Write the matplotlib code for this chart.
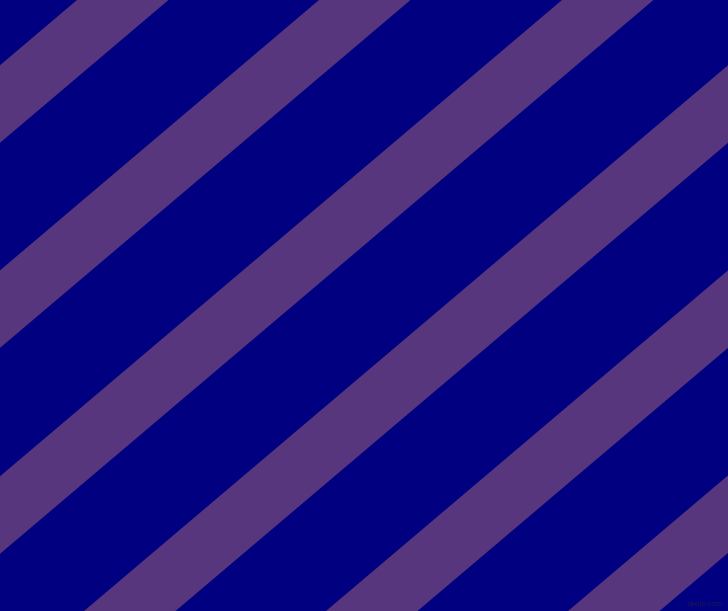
import matplotlib
matplotlib.use("Agg")
import matplotlib.pyplot as plt

# ── Pattern data (pixel units) ───────────────────────────────────────
W, H = 728, 611
background = "#000080"
stripe_color = "#57367d"
stripe_starts = [-650, -408, -165, 77, 319, 562, 805, 1047, 1289]  # x where a stripe's edge meets the top
stripe_width = 91.5        # horizontal width of each stripe
run_per_row = 1.18         # x shift per pixel down (about 40 degrees)

fig = plt.figure(figsize=(W / 100, H / 100), dpi=100)
ax = fig.add_axes([0, 0, 1, 1])
ax.set_xlim(0, W)
ax.set_ylim(H, 0)
ax.axis("off")
fig.patch.set_facecolor(background)
ax.set_facecolor(background)

for x0 in stripe_starts:
    x1 = x0 + stripe_width
    shift = H * run_per_row
    ax.fill([x0, x1, x1 - shift, x0 - shift], [0, 0, H, H],
            color=stripe_color, linewidth=0, antialiased=True)

ax.text(W - 5, H - 4, "pixlis.com", ha="right", va="bottom",
        fontsize=5, color="#1c1c4a", alpha=0.9)

fig.savefig("out.png", dpi=100, facecolor=background)
